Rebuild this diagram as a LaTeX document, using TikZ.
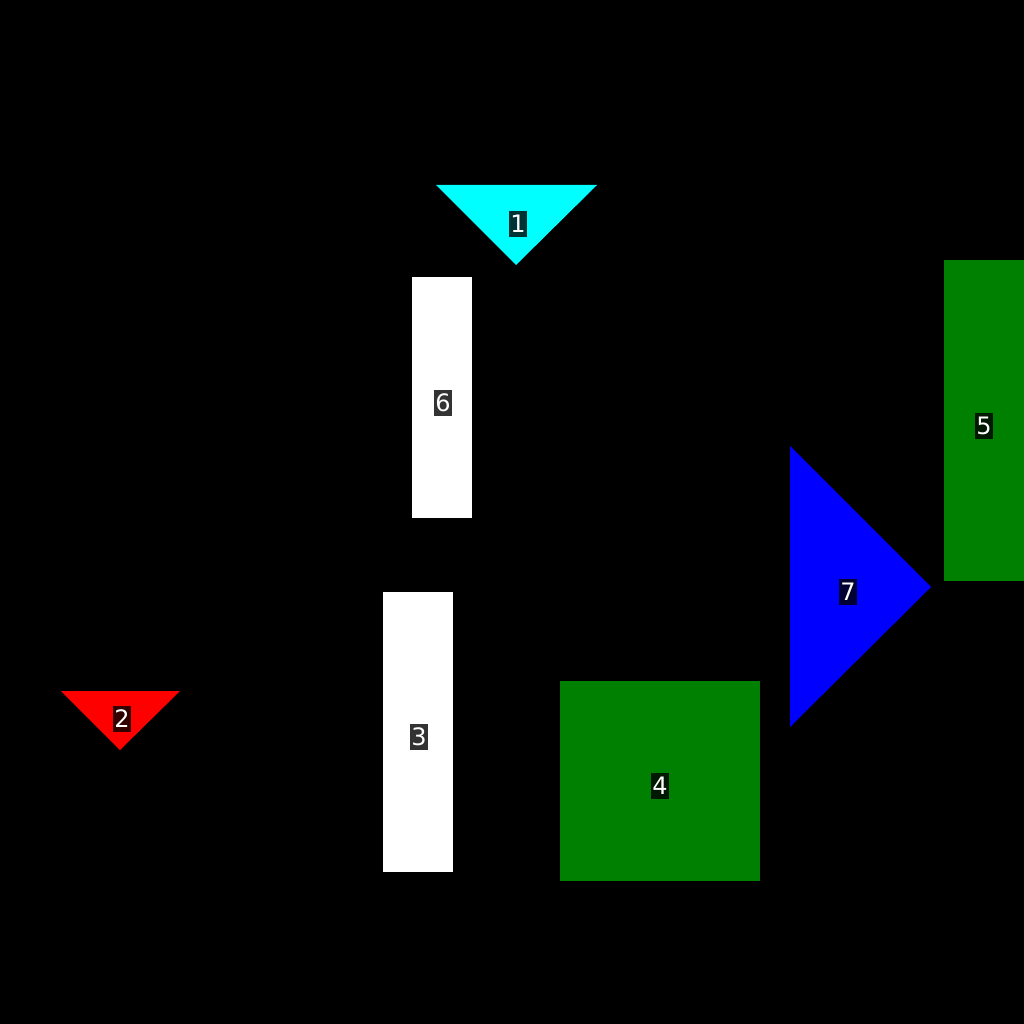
\documentclass[tikz,border=0pt]{standalone}
\usepackage{fontspec}
\setmainfont{DejaVu Sans}
\usetikzlibrary{positioning}

\definecolor{shapecyan}{RGB}{0,255,255}
\definecolor{shapegreen}{RGB}{0,128,0}

\begin{document}
\begin{tikzpicture}[x=1pt,y=-1pt]
  % Styles local to this figure.
  \tikzset{
    tag/.style={fill=black,fill opacity=0.8,text opacity=1,text=white,
      inner xsep=1.5pt,inner ysep=4pt,font=\fontsize{24}{24}\selectfont}
  }

  % Black canvas.
  \fill[black] (0,0) rectangle (1024,1024);
  \useasboundingbox (0,0) rectangle (1024,1024);

  % Triangles.
  \fill[shapecyan] (436,185) -- (597,185) -- (516,265) -- cycle;
  \fill[red] (61,691) -- (180,691) -- (120,750) -- cycle;
  \fill[blue] (790,446) -- (931,587) -- (790,727) -- cycle;

  % Rectangles.
  \fill[white] (383,592) rectangle (453,872);
  \fill[white] (412,277) rectangle (472,518);
  \fill[shapegreen] (560,681) rectangle (760,881);
  \fill[shapegreen] (944,260) rectangle (1024,581);

  % Labels.
  \node[tag] (t1) at (518,224) {1};
  \node[tag] (t2) at (122,719) {2};
  \node[tag] (t3) at (419,737) {3};
  \node[tag] (t4) at (660,786) {4};
  \node[tag] (t5) at (984,426) {5};
  \node[tag] (t6) at (443,403) {6};
  \node[tag] (t7) at (848,592) {7};
\end{tikzpicture}
\end{document}
